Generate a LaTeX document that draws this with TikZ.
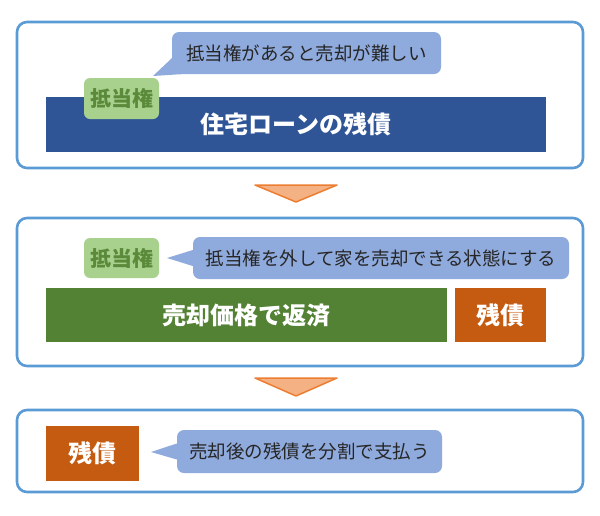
\documentclass[tikz,border=0pt]{standalone}
\usepackage{fontspec}
\setmainfont{Noto Sans CJK JP}
\usetikzlibrary{positioning}

\definecolor{framecol}{HTML}{5B9BD5}
\definecolor{loanblue}{HTML}{2F5597}
\definecolor{notefill}{HTML}{8FAADC}
\definecolor{tagfill}{HTML}{A9D18E}
\definecolor{tagtext}{HTML}{5A8A3A}
\definecolor{salegreen}{HTML}{548235}
\definecolor{debtorange}{HTML}{C55A11}
\definecolor{arrowfill}{HTML}{F4B183}
\definecolor{arrowline}{HTML}{ED7D31}

\begin{document}
\begin{tikzpicture}[x=1pt, y=-1pt,
    panel/.style={draw=framecol, line width=2.6pt, rounded corners=10pt, fill=white},
    bar/.style={inner sep=0pt, text=white, font=\fontsize{24}{26}\selectfont\bfseries},
    note/.style={fill=notefill, rounded corners=7pt, inner sep=0pt, text=black!85,
        font=\fontsize{18.5}{20}\selectfont},
    tag/.style={fill=tagfill, rounded corners=6pt, inner sep=0pt, text=tagtext,
        font=\fontsize{21}{23}\selectfont\bfseries},
    down/.style={fill=arrowfill, draw=arrowline, line width=1.5pt, line join=round}]

        \useasboundingbox (0,0) rectangle (600,515);

        %% PANELS
        \node[panel, minimum width=566pt, minimum height=146pt] (top) at (300,95) {};
        \node[panel, minimum width=566pt, minimum height=148pt] (mid) at (300,292) {};
        \node[panel, minimum width=566pt, minimum height=82pt] (bot) at (300,451) {};

        %% STEP 1
        \node[bar, fill=loanblue, minimum width=500pt, minimum height=55pt] (loan) at (296,124.5) {住宅ローンの残債};
        \node[tag, minimum width=75pt, minimum height=41pt] (tag1) at (121.5,98.5) {抵当権};
        \node[note, minimum width=269pt, minimum height=42pt] (note1) at (306.5,53) {抵当権があると売却が難しい};
        \coordinate (tip1) at (153,76);
        \fill[notefill] ([yshift=16pt]note1.south west) -- ([xshift=9pt]note1.south west) -- (tip1) -- cycle;

        % arrow
        \coordinate (a1) at (255,185);
        \coordinate (b1) at (337,185);
        \coordinate (c1) at (296,202);
        \draw[down] (a1) -- (b1) -- (c1) -- cycle;

        %% STEP 2
        \node[tag, minimum width=75pt, minimum height=40pt] (tag2) at (121.5,258) {抵当権};
        \node[note, minimum width=376pt, minimum height=42pt] (note2) at (381,258) {抵当権を外して家を売却できる状態にする};
        \coordinate (tip2) at (167,258);
        \fill[notefill] ([yshift=8pt]note2.west) -- ([yshift=-8pt]note2.west) -- (tip2) -- cycle;
        \node[bar, fill=salegreen, minimum width=401pt, minimum height=54pt] (sale) at (246.5,315) {売却価格で返済};
        \node[bar, fill=debtorange, minimum width=91pt, minimum height=54pt] (rest1) at (500.5,315) {残債};

        % arrow
        \coordinate (a2) at (255,378);
        \coordinate (b2) at (337,378);
        \coordinate (c2) at (296,396);
        \draw[down] (a2) -- (b2) -- (c2) -- cycle;

        %% STEP 3
        \node[bar, fill=debtorange, minimum width=93pt, minimum height=55pt] (rest2) at (92.5,453.5) {残債};
        \node[note, minimum width=265pt, minimum height=43pt] (note3) at (309.5,451.5) {売却後の残債を分割で支払う};
        \coordinate (tip3) at (151,452);
        \fill[notefill] ([yshift=8pt]note3.west) -- ([yshift=-8pt]note3.west) -- (tip3) -- cycle;

    \end{tikzpicture}
\end{document}
